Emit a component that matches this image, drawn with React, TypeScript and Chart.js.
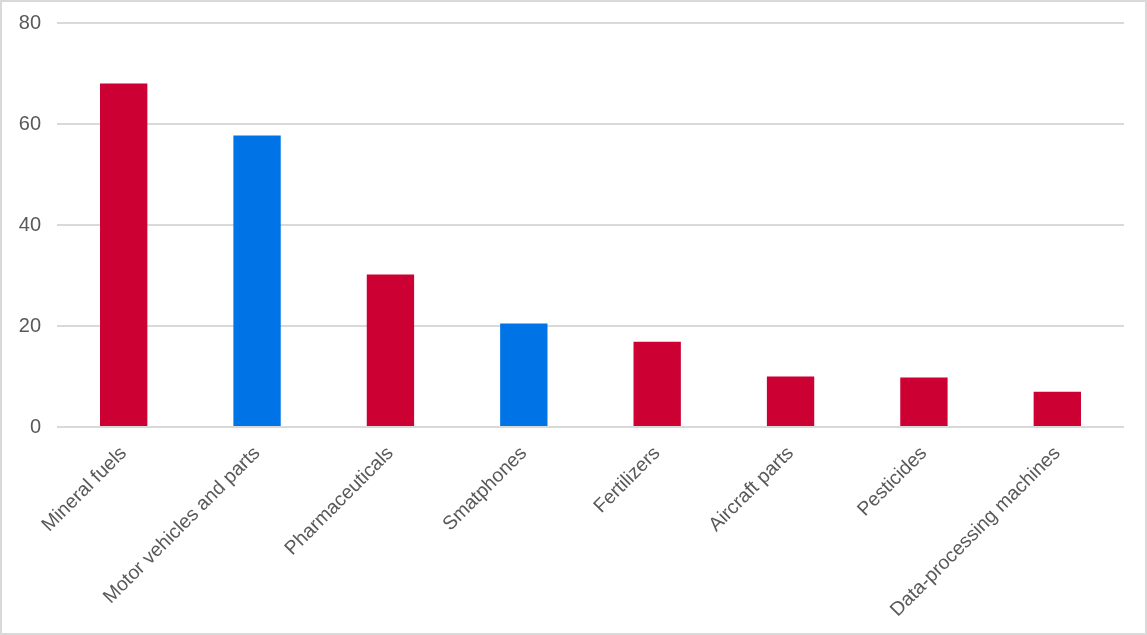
import React, { useEffect, useRef } from "react";
import { Chart, registerables } from "chart.js";

Chart.register(...registerables);

const categories = [
  "Mineral fuels",
  "Motor vehicles and parts",
  "Pharmaceuticals",
  "Smatphones",
  "Fertilizers",
  "Aircraft parts",
  "Pesticides",
  "Data-processing machines",
];
const values = [68.0, 57.7, 30.2, 20.5, 16.9, 10.0, 9.8, 7.0];
const barColors = ["#CC0033", "#0073E6", "#CC0033", "#0073E6", "#CC0033", "#CC0033", "#CC0033", "#CC0033"];
const yTicks = [0, 20, 40, 60, 80];

const fontFamily = "'Liberation Sans', Arial, sans-serif";

const App: React.FC = () => {
  const canvasRef = useRef<HTMLCanvasElement | null>(null);
  const chartRef = useRef<Chart | null>(null);

  useEffect(() => {
    document.body.style.margin = "0";
    if (chartRef.current) chartRef.current.destroy();
    if (!canvasRef.current) return;

    chartRef.current = new Chart(canvasRef.current, {
      type: "bar",
      data: {
        labels: categories,
        datasets: [
          {
            data: values,
            backgroundColor: barColors,
            categoryPercentage: 1,
            barPercentage: 0.355,
          },
        ],
      },
      options: {
        animation: false,
        responsive: true,
        maintainAspectRatio: false,
        layout: { padding: { top: 21, right: 21, left: 0, bottom: 0 } },
        plugins: { legend: { display: false }, tooltip: { enabled: false } },
        scales: {
          x: {
            grid: { display: false, drawTicks: false },
            border: { display: false },
            ticks: {
              color: "#595959",
              font: { family: fontFamily, size: 19.5 },
              minRotation: 45,
              maxRotation: 45,
              padding: 15,
              autoSkip: false,
            },
            afterFit: (scale: any) => {
              scale.height = 206;
            },
          },
          y: {
            min: 0,
            max: 80,
            afterBuildTicks: (scale: any) => {
              scale.ticks = yTicks.map((v) => ({ value: v }));
            },
            grid: { color: "#d9d9d9", lineWidth: 2, drawTicks: false },
            border: { display: false },
            ticks: {
              color: "#595959",
              font: { family: fontFamily, size: 20 },
              padding: 16,
            },
            afterFit: (scale: any) => {
              scale.width = 55;
              scale.paddingTop = 0;
              scale.paddingBottom = 0;
            },
          },
        },
      },
    });

    return () => {
      if (chartRef.current) {
        chartRef.current.destroy();
        chartRef.current = null;
      }
    };
  }, []);

  return (
    <div
      style={{
        width: 1147,
        height: 635,
        boxSizing: "border-box",
        border: "2px solid #d9d9d9",
        background: "#fff",
        position: "relative",
      }}
    >
      <canvas ref={canvasRef}></canvas>
    </div>
  );
};

export default App;
